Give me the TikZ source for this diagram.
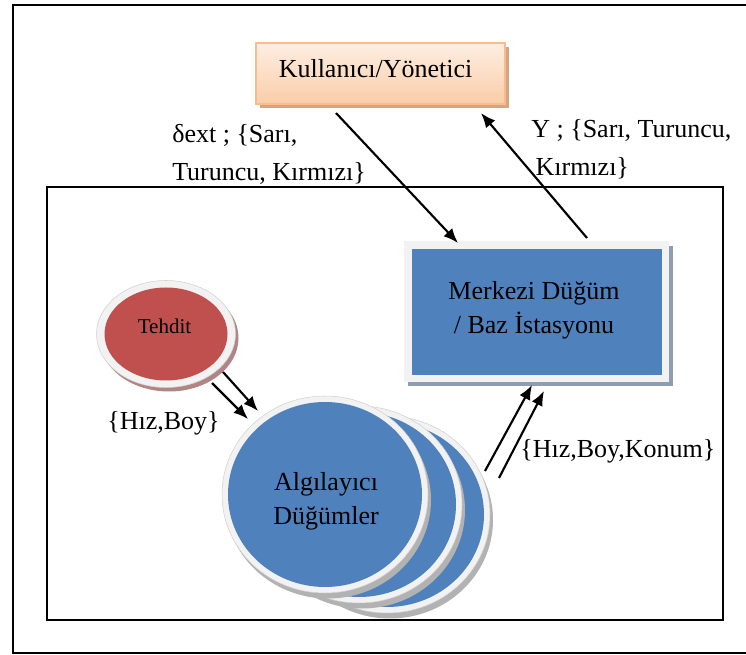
\documentclass[tikz,border=0pt]{standalone}
\usepackage{fontspec}
\setmainfont{Liberation Serif}
\usetikzlibrary{arrows.meta}
\definecolor{nodeblue}{HTML}{4F81BD}
\definecolor{threatred}{HTML}{C0504D}
\definecolor{rimgray}{HTML}{F2F2F2}
\definecolor{usertop}{HTML}{FDEEE2}
\definecolor{userbot}{HTML}{FBCDA8}
\definecolor{userline}{HTML}{F9BC8C}
\definecolor{usershadow}{HTML}{D2A684}
\definecolor{baseshadow}{HTML}{8E9DB2}

\begin{document}
\begin{tikzpicture}[x=0.75pt,y=-0.75pt,
    frame/.style={line width=1.5pt},
    arr/.style={line width=1.6pt,-{Latex[length=11pt,width=9pt]}},
    lbl/.style={font=\fontsize{19.5}{28.5}\selectfont,inner sep=0pt,align=left},
    rim/.style={fill=rimgray,draw=black!18,line width=0.4pt}]
	\useasboundingbox (0,0) rectangle (746,655);
	% frames
	\draw[frame](750,5)--(13,5)--(13,653)--(750,653);
	\draw[frame](47,187) rectangle (723,620);
	% user box
	\fill[usershadow](260,47) rectangle (509,108);
	\draw[draw=userline,line width=1.5pt,top color=usertop,bottom color=userbot](256,43) rectangle (505,104);
	\node[lbl,anchor=base](user) at (375.5,78){Kullanıcı/Yönetici};
	% base station
	\fill[baseshadow](408,246) rectangle (673,386);
	\fill[rimgray](404,241) rectangle (669,382);
	\fill[nodeblue](412,249) rectangle (662,375);
	\node[lbl,anchor=base,align=center,font=\fontsize{19.5}{25.5}\selectfont](base) at (534,334){Merkezi Düğüm\\/ Baz İstasyonu};
	% threat
	\fill[black!35!threatred!60](169,338) ellipse [x radius=69.5,y radius=53.5];
	\filldraw[rim](166,334) ellipse [x radius=69.5,y radius=53.5];
	\fill[threatred](166,334) ellipse [x radius=61.5,y radius=46.5];
	\node[lbl,anchor=base,font=\fontsize{15.75}{18}\selectfont](threat) at (164.5,334){Tehdit};
	% sensor nodes
	\foreach \dx/\dy in {62/20,34/10,0/0}{
		\fill[black!30](328+\dx,500+\dy) ellipse [x radius=103,y radius=98.5];
		\filldraw[rim](325+\dx,494.5+\dy) ellipse [x radius=103,y radius=98.5];
		\fill[nodeblue](325+\dx,494.5+\dy) ellipse [x radius=97,y radius=92.5];
	}
	\node[lbl,anchor=base,align=center,font=\fontsize{19.5}{25.5}\selectfont](sensor) at (326,525){Algılayıcı\\Düğümler};
	% labels
	\node[lbl,anchor=base west](dext) at (172,181){δext ; \{Sarı,\\Turuncu, Kırmızı\}};
	\node[lbl,anchor=base west](yout) at (531,176){Y ; \{Sarı, Turuncu,\\\,Kırmızı\}};
	\node[lbl,anchor=base](hb) at (163.5,430){\{Hız,Boy\}};
	\node[lbl,anchor=base west](hbk) at (520,458){\{Hız,Boy,Konum\}};
	% connectors
	\coordinate (u1) at (336,113); \coordinate (b1) at (458,243);
	\coordinate (b2) at (587,238); \coordinate (u2) at (481,113);
	\coordinate (t1) at (212,383); \coordinate (s1) at (248,419);
	\coordinate (t2) at (223,372); \coordinate (s2) at (258,411);
	\coordinate (s3) at (485,471); \coordinate (b3) at (532,385);
	\coordinate (s4) at (499,478); \coordinate (b4) at (544,391);
	\draw[arr](u1)--(b1);
	\draw[arr](b2)--(u2);
	\draw[arr](t1)--(s1);
	\draw[arr](t2)--(s2);
	\draw[arr](s3)--(b3);
	\draw[arr](s4)--(b4);
\end{tikzpicture}
\end{document}
